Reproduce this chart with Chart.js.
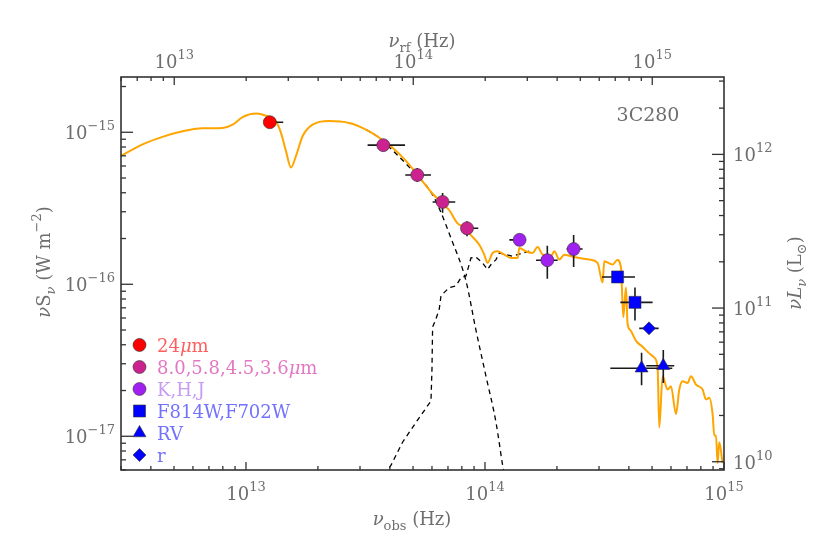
<!DOCTYPE html>
<html>
<head>
<meta charset="utf-8">
<title>3C280 SED</title>
<script src="https://cdn.jsdelivr.net/npm/chart.js@4.4.0/dist/chart.umd.min.js"></script>
<style>
  html, body { margin: 0; padding: 0; background: #fff; }
</style>
</head>
<body>
<canvas id="sed" width="822" height="548"></canvas>
<script>
// axis ranges and conversions
const nuMin = 3.0e12, nuMax = 1.0e15;
const fluxMin = 6.4e-18, fluxMax = 2.31e-15;
const restFactor = 1.996;              // 1 + z
const lumFactor = Math.pow(10, 27.14); // W m^-2 -> L_sun

// tick labels (powers of ten)
const obsTicks = [1e13, 1e14, 1e15];
const restTicks = [1e13, 1e14, 1e15];
const fluxTicks = [1e-17, 1e-16, 1e-15];
const lumTicks = [1e10, 1e11, 1e12];

// total model SED (orange)
const sedNu = [3.0e12, 3.693e12, 4.477e12, 5.43e12, 6.58e12, 7.98e12, 8.79e12, 9.68e12, 1.101e13, 1.212e13,
  1.335e13, 1.401e13, 1.47e13, 1.543e13, 1.619e13, 1.725e13, 1.899e13, 2.231e13, 2.705e13, 3.178e13,
  3.612e13, 4.106e13, 4.673e13, 5.311e13, 6.037e13, 6.646e13, 7.09e13, 7.68e13, 8.327e13, 8.596e13,
  9.466e13, 9.93e13, 1.025e14, 1.076e14, 1.129e14, 1.205e14, 1.284e14, 1.369e14, 1.392e14, 1.484e14,
  1.582e14, 1.66e14, 1.742e14, 1.889e14, 1.95e14, 2.046e14, 2.147e14, 2.29e14, 2.48e14, 2.732e14,
  2.958e14, 3.105e14, 3.155e14, 3.419e14, 3.578e14, 3.707e14, 3.79e14, 3.89e14, 3.95e14, 4.055e14,
  4.282e14, 4.563e14, 4.869e14, 5.11e14, 5.275e14, 5.362e14, 5.535e14, 5.808e14, 6.0e14, 6.297e14,
  6.501e14, 6.71e14, 7.04e14, 7.276e14, 7.634e14, 8.137e14, 8.407e14, 8.68e14, 8.96e14, 9.11e14,
  9.26e14, 9.40e14, 9.556e14, 9.865e14];
const sedFlux = [6.985e-16, 8.32e-16, 9.33e-16, 1.015e-15, 1.062e-15, 1.068e-15, 1.122e-15, 1.259e-15, 1.328e-15, 1.284e-15,
  1.179e-15, 9.91e-16, 7.52e-16, 5.87e-16, 6.985e-16, 9.42e-16, 1.122e-15, 1.186e-15, 1.151e-15, 1.041e-15,
  9.2e-16, 7.92e-16, 6.48e-16, 5.06e-16, 3.94e-16, 3.393e-16, 3.069e-16, 2.516e-16, 2.335e-16, 2.166e-16,
  1.818e-16, 1.566e-16, 1.383e-16, 1.606e-16, 1.648e-16, 1.566e-16, 1.49e-16, 1.49e-16, 1.731e-16, 1.648e-16,
  1.606e-16, 1.757e-16, 1.566e-16, 1.529e-16, 1.648e-16, 1.453e-16, 1.566e-16, 1.529e-16, 1.49e-16, 1.453e-16,
  1.383e-16, 1.026e-16, 1.419e-16, 1.349e-16, 1.447e-16, 1.283e-16, 6.08e-17, 9.52e-17, 5.5e-17, 5.0e-17,
  4.245e-17, 3.881e-17, 3.511e-17, 3.292e-17, 2.805e-17, 1.144e-17, 2.478e-17, 2.031e-17, 2.134e-17, 1.398e-17,
  2.031e-17, 2.3e-17, 2.241e-17, 2.478e-17, 2.189e-17, 2.031e-17, 1.749e-17, 1.79e-17, 1.398e-17, 1.01e-17,
  1.01e-17, 6.65e-18, 9.14e-18, 6.65e-18];

// dust component (dashed, falling)
const dustNu = [3.178e13, 3.612e13, 4.106e13, 4.98e13, 5.943e13, 6.438e13, 7.207e13, 8.327e13, 9.17e13, 1.01e14, 1.112e14, 1.185e14, 1.264e14];
const dustFlux = [1.041e-15, 9.2e-16, 7.6e-16, 5.58e-16, 4.04e-16, 3.148e-16, 2.01e-16, 1.052e-16, 4.98e-17, 2.478e-17, 1.233e-17, 6.45e-18, 3.55e-18];

// stellar component (dashed, rising)
const starNu = [3.79e13, 4.044e13, 4.52e13, 5.311e13, 5.943e13, 6.0e13, 6.037e13, 6.237e13, 6.438e13, 6.545e13, 7.09e13, 7.56e13,
  7.94e13, 8.327e13, 8.737e13, 9.17e13, 9.77e13, 1.025e14, 1.06e14, 1.112e14, 1.148e14, 1.305e14, 1.532e14];
const starFlux = [5.56e-18, 6.45e-18, 9.14e-18, 1.328e-17, 1.705e-17, 2.74e-17, 5.234e-17, 5.926e-17, 6.88e-17, 8.41e-17, 9.52e-17, 9.76e-17,
  1.105e-16, 1.134e-16, 1.49e-16, 1.506e-16, 1.383e-16, 1.251e-16, 1.349e-16, 1.453e-16, 1.606e-16, 1.529e-16, 1.655e-16];

// photometry: value, [low, high] error ranges
const mipsNu = [1.258e13], mipsFlux = [1.165e-15];
const mipsNuErr = [[1.193e13, 1.432e13]], mipsFluxErr = [[1.12e-15, 1.21e-15]];

const iracNu = [3.754e13, 5.208e13, 6.646e13, 8.41e13], iracFlux = [8.23e-16, 5.234e-16, 3.48e-16, 2.335e-16];
const iracNuErr = [[3.227e13, 4.628e13], [4.64e13, 5.943e13], [6.037e13, 7.51e13], [7.94e13, 9.375e13]];
const iracFluxErr = [[7.7e-16, 8.8e-16], [4.71e-16, 5.81e-16], [2.95e-16, 3.98e-16], [2.07e-16, 2.593e-16]];

const nirNu = [1.396e14, 1.823e14, 2.349e14], nirFlux = [1.96e-16, 1.44e-16, 1.705e-16];
const nirNuErr = [[1.264e14, 1.484e14], [1.635e14, 2.013e14], [2.195e14, 2.561e14]];
const nirFluxErr = [[1.85e-16, 2.08e-16], [1.089e-16, 1.79e-16], [1.297e-16, 2.112e-16]];

const hstNu = [3.587e14, 4.242e14], hstFlux = [1.117e-16, 7.605e-17];
const hstNuErr = [[3.087e14, 4.242e14], [3.683e14, 5.027e14]];
const hstFluxErr = [[1.06e-16, 1.18e-16], [5.785e-17, 9.52e-17]];

const rvNu = [4.52e14, 5.572e14], rvFlux = [2.805e-17, 2.908e-17];
const rvNuErr = [[3.344e14, 6.077e14], [4.73e14, 6.194e14]];
const rvFluxErr = [[2.166e-17, 3.548e-17], [2.241e-17, 3.694e-17]];

const rNu = [4.856e14], rFlux = [5.13e-17];
const rNuErr = [[4.42e14, 5.326e14]], rFluxErr = [[5.13e-17, 5.13e-17]];

const legendLabels = ["24μm", "8.0,5.8,4.5,3.6μm", "K,H,J", "F814W,F702W", "RV", "r"];
const sourceName = "3C280";

const AXIS = "#333";
const TEXT = "#6e6e6e";
const SERIF = "DejaVu Serif";

const groups = [
  { nu: mipsNu, flux: mipsFlux, nuErr: mipsNuErr, fluxErr: mipsFluxErr, style: "circle", radius: 6.5, color: "#ff0000", text: "#ff5f5f" },
  { nu: iracNu, flux: iracFlux, nuErr: iracNuErr, fluxErr: iracFluxErr, style: "circle", radius: 6.5, color: "#cc2290", text: "#e377c2" },
  { nu: nirNu, flux: nirFlux, nuErr: nirNuErr, fluxErr: nirFluxErr, style: "circle", radius: 6.5, color: "#a020f0", text: "#c79cf2" },
  { nu: hstNu, flux: hstFlux, nuErr: hstNuErr, fluxErr: hstFluxErr, style: "rect", radius: 8.5, color: "#0000ff", text: "#7272ff" },
  { nu: rvNu, flux: rvFlux, nuErr: rvNuErr, fluxErr: rvFluxErr, style: "triangle", radius: 7.5, color: "#0000ff", text: "#7272ff" },
  { nu: rNu, flux: rFlux, nuErr: rNuErr, fluxErr: rFluxErr, style: "rectRot", radius: 6.5, color: "#0000ff", text: "#7272ff" },
];

function toPoints(xs, ys) {
  return xs.map((x, i) => ({ x: x, y: ys[i] }));
}

// error bars as one broken line, gaps between segments
let errorData = [];
groups.forEach(g => {
  g.nu.forEach((nu, i) => {
    const f = g.flux[i];
    errorData.push({ x: g.nuErr[i][0], y: f }, { x: g.nuErr[i][1], y: f }, { x: nu, y: null });
    errorData.push({ x: nu, y: g.fluxErr[i][0] }, { x: nu, y: g.fluxErr[i][1] }, { x: nu, y: null });
  });
});

let datasets = [
  {
    data: toPoints(sedNu, sedFlux),
    borderColor: "#ffa500", borderWidth: 2, pointRadius: 0, cubicInterpolationMode: "monotone", order: 2,
  },
  {
    data: toPoints(dustNu, dustFlux),
    borderColor: "#000", borderWidth: 1.3, borderDash: [5, 4], pointRadius: 0, cubicInterpolationMode: "monotone", order: 3,
  },
  {
    data: toPoints(starNu, starFlux),
    borderColor: "#000", borderWidth: 1.3, borderDash: [5, 4], pointRadius: 0, order: 3,
  },
  {
    data: errorData,
    borderColor: "#1a1a1a", borderWidth: 1.6, pointRadius: 0, spanGaps: false, order: 1,
  },
];
groups.forEach(g => {
  datasets.push({
    data: toPoints(g.nu, g.flux),
    showLine: false,
    pointStyle: g.style,
    pointRadius: g.radius,
    pointBackgroundColor: g.color,
    pointBorderColor: "#333",
    pointBorderWidth: 0.6,
    order: 0,
  });
});

// ---- text helpers ----
function fontOf(p) {
  return (p.it ? "italic " : "") + p.s + "px " + SERIF;
}

function drawRich(ctx, parts, x, y, align) {
  let w = 0;
  parts.forEach(p => {
    ctx.font = fontOf(p);
    p.w = ctx.measureText(p.t).width;
    w += p.w;
  });
  let cx = align === "center" ? x - w / 2 : align === "right" ? x - w : x;
  ctx.textAlign = "left";
  ctx.textBaseline = "alphabetic";
  parts.forEach(p => {
    ctx.font = fontOf(p);
    ctx.fillText(p.t, cx, y + (p.dy || 0));
    cx += p.w;
  });
}

function powParts(v) {
  const e = Math.round(Math.log10(v));
  return [{ t: "10", s: 18 }, { t: e < 0 ? "\u2212" + (-e) : String(e), s: 13, dy: -9 }];
}

function muParts(label, size) {
  let parts = [];
  label.split("μ").forEach((piece, i) => {
    if (i > 0) parts.push({ t: "μ", s: size, it: true });
    if (piece) parts.push({ t: piece, s: size });
  });
  return parts;
}

function logTicks(min, max) {
  let out = [];
  for (let e = Math.floor(Math.log10(min)); e <= Math.ceil(Math.log10(max)); e++) {
    for (let m = 1; m <= 9; m++) {
      const v = m * Math.pow(10, e);
      if (v >= min * 0.9999 && v <= max * 1.0001) out.push({ v: v, major: m === 1 });
    }
  }
  return out;
}

const sedFrame = {
  id: "sedFrame",
  afterDraw(chart) {
    const ctx = chart.ctx;
    const area = chart.chartArea;
    const sx = chart.scales.x, sx2 = chart.scales.x2, sy = chart.scales.y, sy2 = chart.scales.y2;

    ctx.save();
    ctx.strokeStyle = AXIS;
    ctx.lineWidth = 1.3;

    // inward tick marks
    logTicks(sx.min, sx.max).forEach(t => {
      const px = sx.getPixelForValue(t.v);
      ctx.beginPath(); ctx.moveTo(px, area.bottom); ctx.lineTo(px, area.bottom - (t.major ? 8 : 4)); ctx.stroke();
    });
    logTicks(sx2.min, sx2.max).forEach(t => {
      const px = sx2.getPixelForValue(t.v);
      ctx.beginPath(); ctx.moveTo(px, area.top); ctx.lineTo(px, area.top + (t.major ? 8 : 4)); ctx.stroke();
    });
    logTicks(sy.min, sy.max).forEach(t => {
      const py = sy.getPixelForValue(t.v);
      ctx.beginPath(); ctx.moveTo(area.left, py); ctx.lineTo(area.left + (t.major ? 12 : 5), py); ctx.stroke();
    });
    logTicks(sy2.min, sy2.max).forEach(t => {
      const py = sy2.getPixelForValue(t.v);
      ctx.beginPath(); ctx.moveTo(area.right, py); ctx.lineTo(area.right - (t.major ? 12 : 5), py); ctx.stroke();
    });

    // frame
    ctx.lineWidth = 1.6;
    ctx.strokeRect(area.left, area.top, area.right - area.left, area.bottom - area.top);

    // tick labels
    ctx.fillStyle = TEXT;
    obsTicks.forEach(v => drawRich(ctx, powParts(v), sx.getPixelForValue(v), area.bottom + 30, "center"));
    restTicks.forEach(v => drawRich(ctx, powParts(v), sx2.getPixelForValue(v), area.top - 9, "center"));
    fluxTicks.forEach(v => drawRich(ctx, powParts(v), area.left - 6, sy.getPixelForValue(v) + 7, "right"));
    lumTicks.forEach(v => drawRich(ctx, powParts(v), area.right + 9, sy2.getPixelForValue(v) + 7, "left"));

    // axis titles
    drawRich(ctx, [{ t: "ν", s: 18, it: true }, { t: "obs", s: 13, dy: 5 }, { t: " (Hz)", s: 18 }], 412, 525, "center");
    drawRich(ctx, [{ t: "ν", s: 18, it: true }, { t: "rf", s: 13, dy: 5 }, { t: " (Hz)", s: 18 }], 422, 47, "center");

    ctx.save();
    ctx.translate(50, 262);
    ctx.rotate(-Math.PI / 2);
    drawRich(ctx, [{ t: "ν", s: 18, it: true }, { t: "S", s: 18 }, { t: "ν", s: 13, it: true, dy: 5 },
      { t: " (W m", s: 18 }, { t: "\u22122", s: 13, dy: -9 }, { t: ")", s: 18 }], 0, 0, "center");
    ctx.restore();

    ctx.save();
    ctx.translate(801, 273);
    ctx.rotate(-Math.PI / 2);
    drawRich(ctx, [{ t: "ν", s: 18, it: true }, { t: "L", s: 18, it: true }, { t: "ν", s: 13, it: true, dy: 5 },
      { t: " (L", s: 18 }, { t: "⊙", s: 13, dy: 5 }, { t: ")", s: 18 }], 0, 0, "center");
    ctx.restore();

    // source name
    drawRich(ctx, [{ t: sourceName, s: 19 }], 648, 121, "center");

    // legend
    groups.forEach((g, i) => {
      const y = 345 + i * 22;
      ctx.fillStyle = g.color;
      ctx.strokeStyle = "#333";
      ctx.lineWidth = 0.6;
      Chart.helpers.drawPoint(ctx, { pointStyle: g.style, radius: g.radius, rotation: 0, borderWidth: 0.6 }, 139.5, y);
      ctx.fillStyle = g.text;
      drawRich(ctx, muParts(legendLabels[i], 18), 157, y + 6.5, "left");
    });

    ctx.restore();
  },
};

function logAxis(position, min, max, size) {
  return {
    type: "logarithmic",
    position: position,
    min: min,
    max: max,
    ticks: { display: false },
    grid: { display: false },
    border: { display: false },
    afterFit(scale) {
      if (position === "top" || position === "bottom") scale.height = size;
      else scale.width = size;
    },
  };
}

new Chart(document.getElementById("sed"), {
  type: "line",
  data: { datasets: datasets },
  options: {
    responsive: false,
    animation: false,
    layout: { padding: 0 },
    plugins: { legend: { display: false }, tooltip: { enabled: false } },
    scales: {
      x: logAxis("bottom", nuMin, nuMax, 78),
      x2: logAxis("top", nuMin * restFactor, nuMax * restFactor, 77),
      y: logAxis("left", fluxMin, fluxMax, 121),
      y2: logAxis("right", fluxMin * lumFactor, fluxMax * lumFactor, 98),
    },
  },
  plugins: [sedFrame],
});
</script>
</body>
</html>
